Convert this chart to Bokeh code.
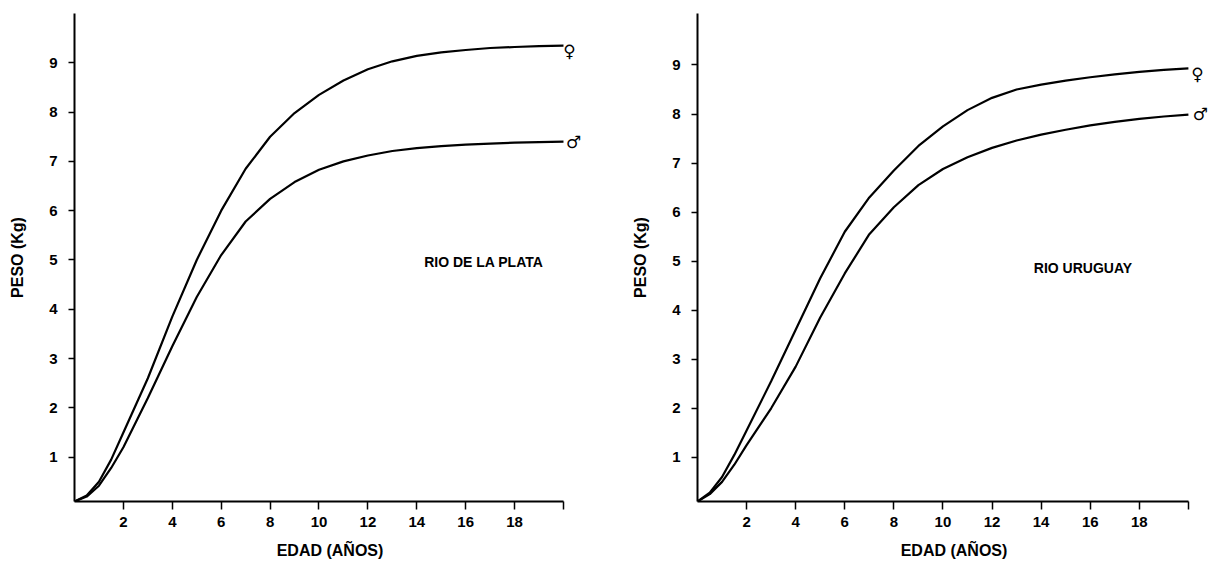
from bokeh.plotting import figure
from bokeh.layouts import row
from bokeh.models import FixedTicker, Range1d
from bokeh.core.properties import value
from bokeh.embed import file_html
from bokeh.resources import INLINE

# ---- data ----
edad = [0, 0.5, 1, 1.5, 2, 3, 4, 5, 6, 7, 8, 9, 10, 11, 12, 13, 14, 15, 16, 17, 18, 19, 20]

plata_hembra = [0.1, 0.22, 0.5, 0.95, 1.5, 2.6, 3.85, 5.0, 6.0, 6.85, 7.5, 7.98, 8.35,
                8.64, 8.87, 9.03, 9.14, 9.21, 9.26, 9.3, 9.32, 9.34, 9.35]
plata_macho = [0.1, 0.2, 0.42, 0.78, 1.2, 2.2, 3.25, 4.25, 5.1, 5.78, 6.24, 6.58, 6.83,
               7.0, 7.12, 7.21, 7.27, 7.31, 7.34, 7.36, 7.38, 7.39, 7.4]

uruguay_hembra = [0.1, 0.28, 0.6, 1.05, 1.55, 2.55, 3.6, 4.65, 5.6, 6.3, 6.85, 7.35, 7.75,
                  8.08, 8.33, 8.5, 8.6, 8.68, 8.75, 8.81, 8.86, 8.9, 8.93]
uruguay_macho = [0.1, 0.25, 0.5, 0.85, 1.25, 2.0, 2.85, 3.85, 4.75, 5.55, 6.1, 6.55, 6.88,
                 7.12, 7.31, 7.46, 7.58, 7.68, 7.77, 7.84, 7.9, 7.95, 7.99]

x_ticks = [2, 4, 6, 8, 10, 12, 14, 16, 18, 20]
y_ticks = [1, 2, 3, 4, 5, 6, 7, 8, 9]

FONT = "Liberation Sans"
SYM_FONT = "DejaVu Sans"


def make_panel(title_text, hembra, macho, width, height, bl, br, bt, bb,
               text_x, text_y, x_end, y_top, f_off, m_off):
    p = figure(width=width, height=height, output_backend="svg",
               toolbar_location=None, x_range=Range1d(0, x_end),
               y_range=Range1d(0.1, y_top),
               min_border_left=bl, min_border_right=br,
               min_border_top=bt, min_border_bottom=bb)
    p.outline_line_color = None
    p.grid.visible = False
    p.background_fill_color = "white"
    p.border_fill_color = "white"

    for ax in (p.xaxis[0], p.yaxis[0]):
        ax.axis_line_width = 2
        ax.axis_line_color = "black"
        ax.major_tick_line_color = "black"
        ax.major_tick_line_width = 1.5
        ax.major_tick_in = 0
        ax.minor_tick_line_color = None
        ax.major_label_text_font = FONT
        ax.major_label_text_font_style = "bold"
        ax.major_label_text_font_size = "15px"
        ax.major_label_text_color = "black"
        ax.axis_label_text_font = FONT
        ax.axis_label_text_font_style = "bold"
        ax.axis_label_text_font_size = "16px"
        ax.axis_label_text_color = "black"

    p.xaxis.bounds = (0, 20)
    p.xaxis.ticker = FixedTicker(ticks=x_ticks)
    p.xaxis.major_label_overrides = {20: ""}
    p.xaxis.major_tick_out = 8
    p.xaxis.major_label_standoff = 7
    p.xaxis.axis_label = "EDAD (AÑOS)"
    p.xaxis.axis_label_standoff = 12

    p.yaxis.ticker = FixedTicker(ticks=y_ticks)
    p.yaxis.major_tick_out = 6
    p.yaxis.major_label_standoff = 11
    p.yaxis.axis_label = "PESO (Kg)"
    p.yaxis.axis_label_standoff = 20

    p.line(edad, hembra, line_color="black", line_width=2.2)
    p.line(edad, macho, line_color="black", line_width=2.2)

    p.text(x=[20], y=[hembra[-1]], text=["♀"], x_offset=f_off[0], y_offset=f_off[1],
           text_font=value(SYM_FONT), text_font_style="bold", text_font_size="17px",
           text_align="center", text_baseline="middle", text_color="black")
    p.text(x=[20], y=[macho[-1]], text=["♂"], x_offset=m_off[0], y_offset=m_off[1],
           text_font=value(SYM_FONT), text_font_style="bold", text_font_size="17px",
           text_align="center", text_baseline="middle", text_color="black")
    p.text(x=[text_x], y=[text_y], text=[title_text],
           text_font=value(FONT), text_font_style="bold", text_font_size="14px",
           text_baseline="middle", text_color="black")
    return p


left = make_panel("RIO DE LA PLATA", plata_hembra, plata_macho,
                  620, 563, 74, 35, 13, 62, 14.3, 4.95, 20.9, 10.0, (6, 5), (10, 0))
right = make_panel("RIO URUGUAY", uruguay_hembra, uruguay_macho,
                   590, 563, 77, 0, 7, 59, 13.7, 4.87, 20.9, 10.05, (9, 6), (12, -1))

layout = row(left, right)
open("out.html", "w").write(file_html(layout, INLINE))
